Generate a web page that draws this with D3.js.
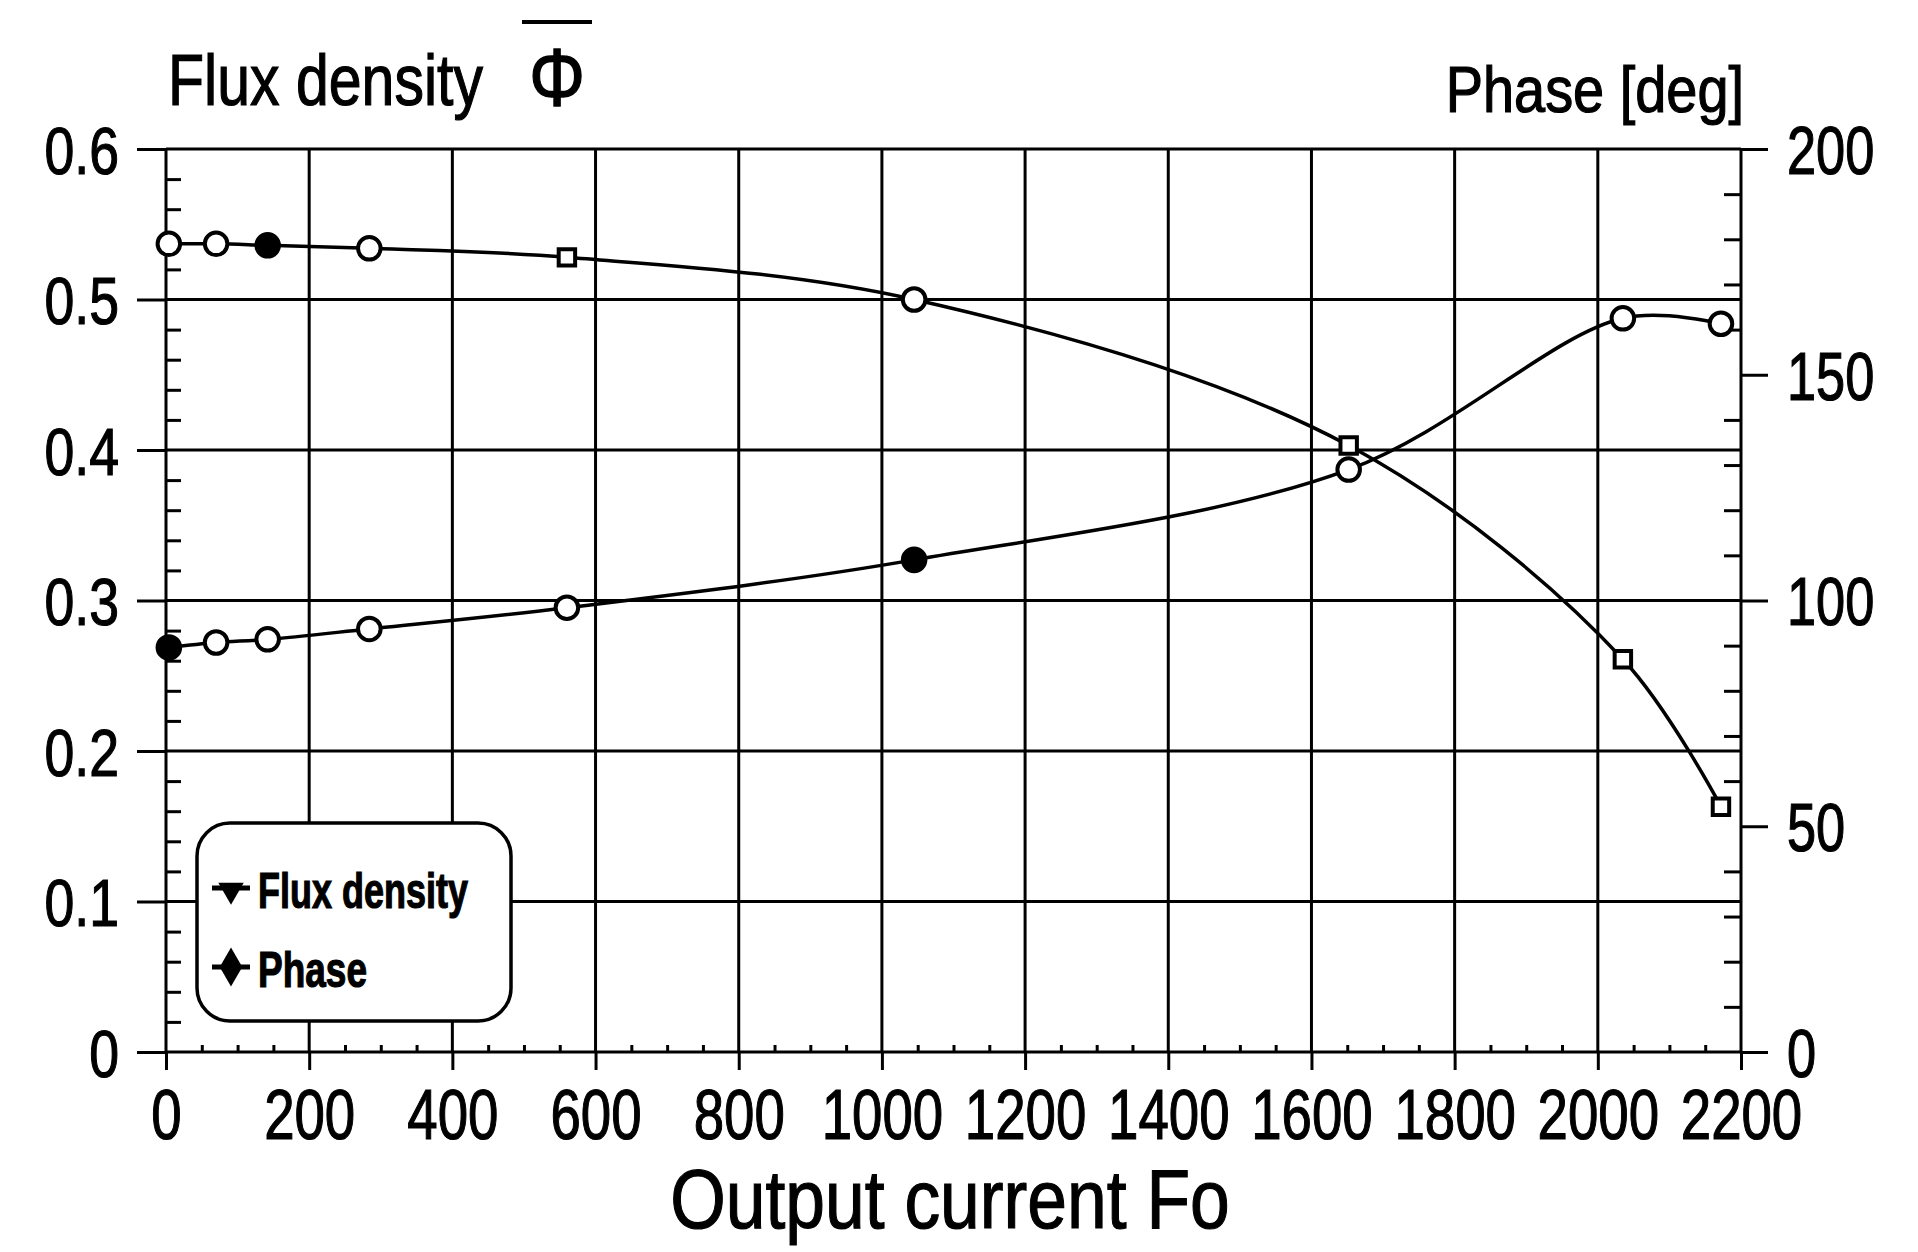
<!DOCTYPE html>
<html>
<head>
<meta charset="utf-8">
<script src="https://cdn.jsdelivr.net/npm/d3@7"></script>
<style>
  html, body { margin: 0; padding: 0; background: #fff; }
  svg { display: block; }
  text { font-family: "Liberation Sans", Arial, Helvetica, sans-serif; fill: #000; stroke: #000; stroke-width: 1.2px; }
</style>
</head>
<body>
<svg id="chart" width="1918" height="1252"></svg>
<script>
// ---- data ----
const outputCurrent = [4, 70, 142, 284, 560, 1045, 1652, 2035, 2172];
const fluxDensity   = [0.537, 0.537, 0.536, 0.534, 0.528, 0.500, 0.403, 0.261, 0.163];
const phaseDeg      = [89.6, 90.7, 91.4, 93.7, 98.4, 109, 129, 162.5, 161.3];

const xTicks      = [0, 200, 400, 600, 800, 1000, 1200, 1400, 1600, 1800, 2000, 2200];
const yLeftTicks  = [0, 0.1, 0.2, 0.3, 0.4, 0.5, 0.6];
const yRightTicks = [0, 50, 100, 150, 200];
const seriesNames = ["Flux density", "Phase"];

// ---- marker styling (not data) ----
const fluxShapes = ["circle","circle","circle","circle","square","circle","square","square","square"];
const fluxFilled = [false,false,true,false,false,false,false,false,false];
const phaseFilled = [true,false,false,false,false,true,false,false,false];

const svg = d3.select("#chart");
svg.append("rect").attr("width",1918).attr("height",1252).attr("fill","#fff");

const X0 = 166, X1 = 1741, Y0 = 1052, Y1 = 149;
const x  = d3.scaleLinear().domain([0, 2200]).range([X0, X1]);
const yL = d3.scaleLinear().domain([0, 0.6]).range([Y0, Y1]);
const yR = d3.scaleLinear().domain([0, 200]).range([Y0, Y1]);

const SW = 3;

// ---- grid ----
const grid = svg.append("g").attr("stroke", "#000").attr("stroke-width", SW);
grid.selectAll("line.v").data(xTicks).join("line")
  .attr("x1", d => x(d)).attr("x2", d => x(d))
  .attr("y1", Y1).attr("y2", Y0);
grid.selectAll("line.h").data(yLeftTicks).join("line")
  .attr("x1", X0).attr("x2", X1)
  .attr("y1", d => yL(d)).attr("y2", d => yL(d));

function styleAxis(g) {
  g.select(".domain").remove();
  g.selectAll(".tick line").attr("stroke", "#000").attr("stroke-width", SW);
}

// ---- left axis ----
const lsx = 0.8;
const gl = svg.append("g").attr("transform", `translate(${X0},0)`)
  .call(d3.axisLeft(yL).tickValues(yLeftTicks).tickSize(29)
        .tickFormat(d => d === 0 ? "0" : d3.format(".1f")(d)));
styleAxis(gl);
gl.selectAll(".tick text")
  .attr("font-size", 67).attr("x", -47 / lsx).attr("dy", "0.36em")
  .attr("transform", `scale(${lsx},1)`).attr("text-anchor", "end");

const gl2 = svg.append("g").attr("transform", `translate(${X0},0)`)
  .call(d3.axisRight(yL).tickValues(d3.range(0, 31).map(i => i * 0.02).filter((d, i) => i % 5 !== 0))
        .tickSize(15).tickFormat(""));
styleAxis(gl2);

// ---- bottom axis ----
const bsx = 0.78;
const gb = svg.append("g").attr("transform", `translate(0,${Y0})`)
  .call(d3.axisBottom(x).tickValues(xTicks).tickSize(18).tickFormat(d3.format("d")));
styleAxis(gb);
gb.selectAll(".tick text")
  .attr("font-size", 70).attr("y", 87).attr("dy", 0)
  .attr("transform", `scale(${bsx},1)`);

const gb2 = svg.append("g").attr("transform", `translate(0,${Y0})`)
  .call(d3.axisTop(x).tickValues(d3.range(0, 2201, 50).filter(d => d % 200 !== 0))
        .tickSize(7).tickFormat(""));
styleAxis(gb2);

// ---- right axis ----
const rsx = 0.77;
const gr = svg.append("g").attr("transform", `translate(${X1},0)`)
  .call(d3.axisRight(yR).tickValues(yRightTicks).tickSize(27).tickFormat(d3.format("d")));
styleAxis(gr);
gr.selectAll(".tick text")
  .attr("font-size", 68).attr("x", 46 / rsx).attr("dy", "0.36em")
  .attr("transform", `scale(${rsx},1)`).attr("text-anchor", "start");

const gr2 = svg.append("g").attr("transform", `translate(${X1},0)`)
  .call(d3.axisLeft(yR).tickValues(d3.range(0, 201, 10).filter(d => d % 50 !== 0))
        .tickSize(17).tickFormat(""));
styleAxis(gr2);

// ---- series ----
const pts = outputCurrent.map((c, i) => ({ c, f: fluxDensity[i], p: phaseDeg[i], i }));
const curve = d3.curveCatmullRom.alpha(0.5);

svg.append("path").datum(pts)
  .attr("fill", "none").attr("stroke", "#000").attr("stroke-width", 3.5)
  .attr("d", d3.line().curve(curve).x(d => x(d.c)).y(d => yL(d.f)));
svg.append("path").datum(pts)
  .attr("fill", "none").attr("stroke", "#000").attr("stroke-width", 3.5)
  .attr("d", d3.line().curve(curve).x(d => x(d.c)).y(d => yR(d.p)));

const circleSym = d3.symbol().type(d3.symbolCircle).size(400);
const squareSym = d3.symbol().type(d3.symbolSquare).size(270);

svg.append("g").selectAll("path").data(pts).join("path")
  .attr("transform", d => `translate(${x(d.c)},${yL(d.f)})`)
  .attr("d", d => fluxShapes[d.i] === "square" ? squareSym() : circleSym())
  .attr("fill", d => fluxFilled[d.i] ? "#000" : "#fff")
  .attr("stroke", "#000").attr("stroke-width", 4);

svg.append("g").selectAll("path").data(pts).join("path")
  .attr("transform", d => `translate(${x(d.c)},${yR(d.p)})`)
  .attr("d", circleSym())
  .attr("fill", d => phaseFilled[d.i] ? "#000" : "#fff")
  .attr("stroke", "#000").attr("stroke-width", 4);

// ---- legend ----
const lg = svg.append("g");
lg.append("rect").attr("x", 197).attr("y", 823).attr("width", 314).attr("height", 198)
  .attr("rx", 33).attr("ry", 33).attr("fill", "#fff").attr("stroke", "#000").attr("stroke-width", 3.5);
const legY = [888, 967];
legY.forEach((ly, k) => {
  lg.append("line").attr("x1", 212).attr("x2", 250).attr("y1", ly).attr("y2", ly)
    .attr("stroke", "#000").attr("stroke-width", 5);
  const sym = k === 0
    ? d3.symbol().type(d3.symbolTriangle).size(280)()
    : d3.symbol().type(d3.symbolDiamond).size(440)();
  lg.append("path").attr("d", sym)
    .attr("transform", k === 0 ? `translate(231,${ly + 2}) rotate(180)` : `translate(231,${ly})`)
    .attr("fill", "#000");
  lg.append("text").attr("transform", `translate(258,${ly + 20}) scale(${k === 0 ? 0.72 : 0.74},1)`)
    .attr("font-size", 50).attr("font-weight", "bold").text(seriesNames[k]);
});

// ---- titles ----
svg.append("text").attr("transform", "translate(168,105) scale(0.82,1)")
  .attr("font-size", 72).text("Flux density");
svg.append("text").attr("transform", "translate(557,106) scale(0.95,1.1)")
  .attr("font-size", 74).attr("text-anchor", "middle").text("Φ");
svg.append("line").attr("x1", 522).attr("x2", 592).attr("y1", 22).attr("y2", 22)
  .attr("stroke", "#000").attr("stroke-width", 4);
svg.append("text").attr("transform", "translate(1744,112) scale(0.86,1)")
  .attr("font-size", 65).attr("text-anchor", "end").text("Phase [deg]");
svg.append("text").attr("transform", "translate(950,1228) scale(0.85,1)")
  .attr("font-size", 84).attr("text-anchor", "middle").text("Output current Fo");
</script>
</body>
</html>
